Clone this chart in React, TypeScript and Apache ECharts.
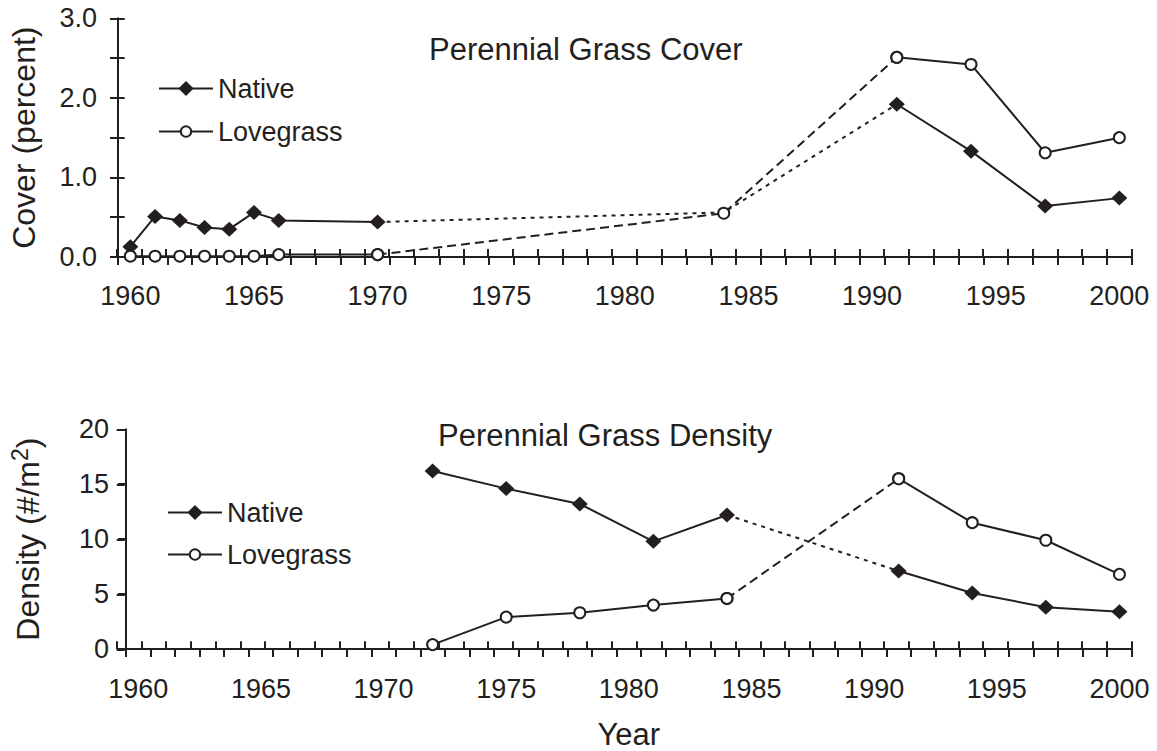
import { useEffect, useRef } from 'react';
import * as echarts from 'echarts';

const INK = '#231f20';
const FONT = '"Liberation Sans", Arial, Helvetica, sans-serif';

// Category axis: one slot per year, 1960..2000
const YEARS: string[] = Array.from({ length: 41 }, (_, i) => String(1960 + i));

// Perennial grass cover (percent)
const COVER_YEARS = [1960, 1961, 1962, 1963, 1964, 1965, 1966, 1970, 1984, 1991, 1994, 1997, 2000];
const COVER_NATIVE = [0.13, 0.51, 0.46, 0.37, 0.35, 0.56, 0.46, 0.44, 0.56, 1.92, 1.33, 0.64, 0.74];
const COVER_LOVEGRASS = [0.01, 0.01, 0.01, 0.01, 0.01, 0.01, 0.03, 0.03, 0.55, 2.51, 2.42, 1.31, 1.5];
const COVER_GAP = [1970, 1991];

// Perennial grass density (#/m2)
const DENSITY_YEARS = [1972, 1975, 1978, 1981, 1984, 1991, 1994, 1997, 2000];
const DENSITY_NATIVE = [16.2, 14.6, 13.2, 9.8, 12.2, 7.1, 5.1, 3.8, 3.4];
const DENSITY_LOVEGRASS = [0.4, 2.9, 3.3, 4.0, 4.6, 15.5, 11.5, 9.9, 6.8];
const DENSITY_GAP = [1984, 1991];

function segment(years: number[], values: number[], from: number, to: number) {
  return YEARS.map((y) => {
    const yr = Number(y);
    const i = years.indexOf(yr);
    return i >= 0 && yr >= from && yr <= to ? values[i] : null;
  });
}

function panelSeries(ax: number, years: number[], native: number[], love: number[], gap: number[]) {
  const first = years[0];
  const last = years[years.length - 1];
  const nativeBase: any = {
    type: 'line', xAxisIndex: ax, yAxisIndex: ax, connectNulls: true,
    symbol: 'diamond', symbolSize: [16, 15],
    lineStyle: { color: INK, width: 2 }, itemStyle: { color: INK }, z: 3,
  };
  const loveBase: any = {
    type: 'line', xAxisIndex: ax, yAxisIndex: ax, connectNulls: true,
    symbol: 'circle', symbolSize: 11,
    lineStyle: { color: INK, width: 2 },
    itemStyle: { color: '#ffffff', borderColor: INK, borderWidth: 2 }, z: 4,
  };
  return [
    { ...nativeBase, name: 'Native', data: segment(years, native, first, gap[0]) },
    { ...nativeBase, name: 'Native', data: segment(years, native, gap[1], last) },
    { ...loveBase, name: 'Lovegrass', data: segment(years, love, first, gap[0]) },
    { ...loveBase, name: 'Lovegrass', data: segment(years, love, gap[1], last) },
    {
      ...nativeBase, name: 'Native (gap)', symbol: 'none', z: 2,
      lineStyle: { color: INK, width: 2, type: [4, 5] },
      data: segment(years, native, gap[0], gap[1]),
    },
    {
      ...loveBase, name: 'Lovegrass (gap)', z: 2,
      lineStyle: { color: INK, width: 2, type: [9, 5] },
      data: segment(years, love, gap[0], gap[1]),
    },
  ];
}

const tickStyle = { color: INK, width: 2 };

function xMain(grid: number, margin: number, name?: string) {
  return {
    type: 'category', gridIndex: grid, data: YEARS, boundaryGap: true, position: 'bottom',
    axisLine: { show: true, onZero: false, lineStyle: { color: INK, width: 2 } },
    axisTick: { show: true, interval: 0, length: 8, lineStyle: tickStyle },
    axisLabel: { interval: 4, margin, fontSize: 27, color: INK, fontFamily: FONT },
    splitLine: { show: false },
    name: name || '', nameLocation: 'middle', nameGap: 70,
    nameTextStyle: { fontSize: 31, color: INK, fontFamily: FONT },
  };
}

function xInner(grid: number) {
  return {
    type: 'category', gridIndex: grid, data: YEARS, boundaryGap: true, position: 'bottom',
    axisLine: { show: false, onZero: false },
    axisTick: { show: true, inside: true, interval: 0, length: 8, lineStyle: tickStyle },
    axisLabel: { show: false }, splitLine: { show: false },
  };
}

function yMain(grid: number, max: number, interval: number, margin: number, fmt: (v: number) => string, name: string, nameStyle: any) {
  return {
    type: 'value', gridIndex: grid, min: 0, max, interval, position: 'left',
    axisLine: { show: true, onZero: false, lineStyle: { color: INK, width: 2 } },
    axisTick: { show: true, length: 8, lineStyle: tickStyle },
    axisLabel: { margin, fontSize: 27, color: INK, fontFamily: FONT, formatter: fmt },
    splitLine: { show: false },
    name, nameLocation: 'middle', nameGap: 78, nameTextStyle: nameStyle,
  };
}

function yInner(grid: number, max: number, interval: number) {
  return {
    type: 'value', gridIndex: grid, min: 0, max, interval, position: 'left',
    axisLine: { show: false, onZero: false },
    axisTick: { show: true, inside: true, length: 8, lineStyle: tickStyle },
    axisLabel: { show: false }, splitLine: { show: false },
  };
}

function legendItem(name: string, left: number, top: number, itemHeight: number) {
  return {
    data: [name], left, top, orient: 'vertical', padding: 0,
    itemWidth: 54, itemHeight, selectedMode: false,
    textStyle: { fontSize: 27, color: INK, fontFamily: FONT },
  };
}

const TOP_GRID = { left: 116.7, top: 18.3, width: 1015, height: 238.7 };
const BOTTOM_GRID = { left: 116.7, top: 429.3, width: 1015, height: 220 };

export default function App() {
  const ref = useRef<HTMLDivElement>(null);
  useEffect(() => {
    if (!ref.current) return;
    const chart = echarts.init(ref.current, undefined, { renderer: 'svg' });
    const titleStyle = { fontSize: 31, fontWeight: 'normal', color: INK, fontFamily: FONT };
    chart.setOption({
      animation: false,
      backgroundColor: '#ffffff',
      textStyle: { fontFamily: FONT },
      title: [
        { text: 'Perennial Grass Cover', left: 429, top: 34, padding: 0, textStyle: titleStyle },
        { text: 'Perennial Grass Density', left: 438, top: 420, padding: 0, textStyle: titleStyle },
      ],
      legend: [
        legendItem('Native', 158, 75, 19),
        legendItem('Lovegrass', 158, 118, 13),
        legendItem('Native', 167, 499, 19),
        legendItem('Lovegrass', 167, 541, 13),
      ],
      grid: [TOP_GRID, BOTTOM_GRID, { ...TOP_GRID }, { ...BOTTOM_GRID }],
      xAxis: [xMain(0, 25), xMain(1, 26.5, 'Year'), xInner(2), xInner(3)],
      yAxis: [
        yMain(0, 3, 0.5, 21,
          (v: number) => (Math.abs(v - Math.round(v)) < 1e-9 ? v.toFixed(1) : ''),
          'Cover (percent)', { fontSize: 32, color: INK, fontFamily: FONT }),
        yMain(1, 20, 5, 17, (v: number) => String(v),
          'Density (#/m{sup|2})', {
            fontSize: 32, color: INK, fontFamily: FONT,
            rich: { sup: { fontSize: 23, color: INK, fontFamily: FONT, padding: [0, 0, 17, 0] } },
          }),
        yInner(2, 3, 0.5),
        yInner(3, 20, 5),
      ],
      series: [
        ...panelSeries(0, COVER_YEARS, COVER_NATIVE, COVER_LOVEGRASS, COVER_GAP),
        ...panelSeries(1, DENSITY_YEARS, DENSITY_NATIVE, DENSITY_LOVEGRASS, DENSITY_GAP),
      ],
    });
    return () => chart.dispose();
  }, []);
  return (
    <div
      ref={ref}
      style={{ position: 'absolute', left: 0, top: 0, width: 1157, height: 751, background: '#fff' }}
    />
  );
}
